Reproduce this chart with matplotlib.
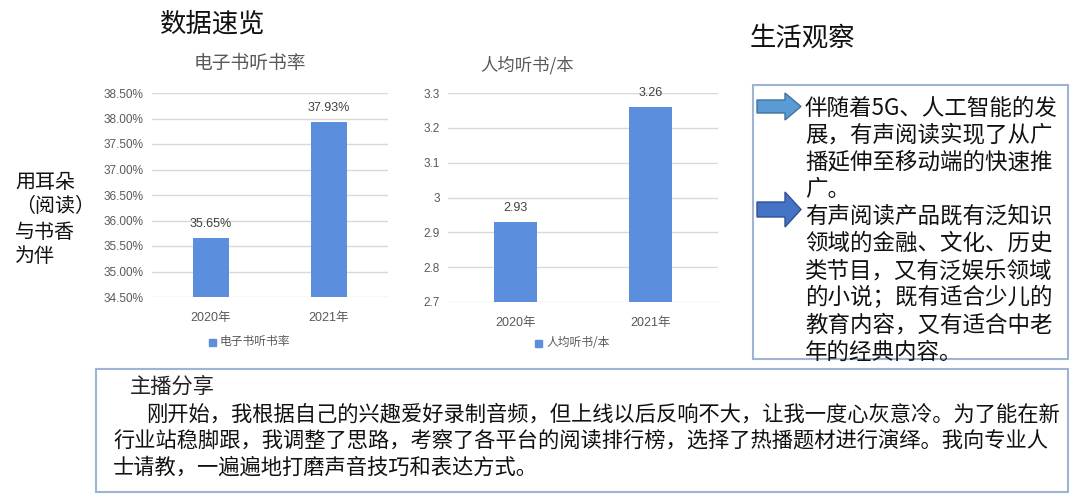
import matplotlib
matplotlib.use("Agg")
import matplotlib.pyplot as plt
from matplotlib.patches import Rectangle, Polygon

plt.rcParams['font.family'] = ['Noto Sans CJK SC', 'DejaVu Sans']
NUM_FONT = ['Liberation Sans', 'Noto Sans CJK SC']

# data
years = ['2020年', '2021年']
listen_rate = [35.65, 37.93]          # 电子书听书率, %
rate_ticks = [34.5, 35.0, 35.5, 36.0, 36.5, 37.0, 37.5, 38.0, 38.5]
books_per_person = [2.93, 3.26]       # 人均听书/本
book_ticks = [2.7, 2.8, 2.9, 3.0, 3.1, 3.2, 3.3]

side_lines = ['用耳朵', '（阅读）', '与书香', '为伴']
obs_lines = ['伴随着5G、人工智能的发', '展，有声阅读实现了从广', '播延伸至移动端的快速推', '广。',
             '有声阅读产品既有泛知识', '领域的金融、文化、历史', '类节目，又有泛娱乐领域',
             '的小说；既有适合少儿的', '教育内容，又有适合中老', '年的经典内容。']
share_lines = ['刚开始，我根据自己的兴趣爱好录制音频，但上线以后反响不大，让我一度心灰意冷。为了能在新',
               '行业站稳脚跟，我调整了思路，考察了各平台的阅读排行榜，选择了热播题材进行演绎。我向专业人',
               '士请教，一遍遍地打磨声音技巧和表达方式。']

W, H = 1080, 499
BAR = '#5B8FDD'
GRAY = '#595959'

fig = plt.figure(figsize=(W / 100, H / 100), dpi=100)

# pixel overlay for boxes, arrows and free text
ov = fig.add_axes([0, 0, 1, 1])
ov.set_xlim(0, W)
ov.set_ylim(H, 0)
ov.axis('off')


def px_axes(x0, y0, x1, y1):
    return fig.add_axes([x0 / W, 1 - y1 / H, (x1 - x0) / W, (y1 - y0) / H])


def bar_chart(ax, vals, ticks, labels, fmt, width):
    ax.bar(range(len(vals)), vals, width=width, color=BAR, zorder=3)
    ax.set_xlim(-0.5, len(vals) - 0.5)
    ax.set_ylim(ticks[0], ticks[-1])
    ax.set_yticks(ticks)
    ax.set_yticklabels([fmt(t) for t in ticks], family=NUM_FONT, fontsize=8.5, color=GRAY)
    ax.set_xticks(range(len(vals)))
    ax.set_xticklabels(years, family=NUM_FONT, fontsize=9, color=GRAY)
    ax.tick_params(length=0, axis='x', pad=11)
    ax.tick_params(length=0, axis='y', pad=6)
    for s in ax.spines.values():
        s.set_visible(False)
    ax.grid(axis='y', color='#D9D9D9', lw=1, zorder=0)
    ax.set_axisbelow(True)
    ax.set_facecolor('none')
    ax.bar_label(ax.containers[0], labels=labels, padding=6, family=NUM_FONT,
                 fontsize=9, color='#404040')


ax1 = px_axes(152, 93, 388, 297)
bar_chart(ax1, listen_rate, rate_ticks, [f'{v:.2f}%' for v in listen_rate],
          lambda t: f'{t:.2f}%', 0.31)
ax2 = px_axes(448, 93, 718, 302)
bar_chart(ax2, books_per_person, book_ticks, [f'{v:.2f}' for v in books_per_person],
          lambda t: f'{t:g}', 0.32)

# chart titles and legends
ov.text(250, 63, '电子书听书率', fontsize=13.5, color=GRAY, ha='center', va='center')
ov.text(527, 65, '人均听书/本', fontsize=12.5, color=GRAY, ha='center', va='center')
for cx, cy, name in [(250, 342, '电子书听书率'), (576, 343, '人均听书/本')]:
    ov.add_patch(Rectangle((cx - 41, cy - 3.5), 7, 7, color=BAR))
    ov.text(cx - 30, cy, name, fontsize=8.5, color=GRAY, ha='left', va='center')

# headings
ov.text(160, 24, '数据速览', fontsize=19, color='#111111', ha='left', va='center')
ov.text(750, 38, '生活观察', fontsize=19, color='#111111', ha='left', va='center')

for i, line in enumerate(side_lines):
    ov.text(15, 182 + i * 25, line, fontsize=14.4, color='#111111', ha='left', va='center',
            weight='medium')

# right box
ov.add_patch(Rectangle((753, 85), 1068 - 753, 359 - 85, fill=False, ec='#9FB3D3', lw=1.5))
for i, line in enumerate(obs_lines):
    ov.text(805, 108 + i * 27.1, line, fontsize=16.2, color='#111111', ha='left', va='center',
            weight='medium')

# arrows
for (ymid, shaft, head, fc, ec) in [(106.5, 6.5, 13.5, '#5B9BD5', '#41719C'),
                                    (209.5, 7.5, 17.5, '#4472C4', '#2F528F')]:
    pts = [(757, ymid - shaft), (785, ymid - shaft), (785, ymid - head), (801, ymid),
           (785, ymid + head), (785, ymid + shaft), (757, ymid + shaft)]
    ov.add_patch(Polygon(pts, closed=True, fc=fc, ec=ec, lw=1))

# bottom box
ov.add_patch(Rectangle((96, 369), 1068 - 96, 492 - 369, fill=False, ec='#9FB3D3', lw=1.5))
ov.text(130, 387, '主播分享', fontsize=15.3, color='#222222', ha='left', va='center')
for i, line in enumerate(share_lines):
    x0 = 146 if i == 0 else 113
    ov.text(x0, 414 + i * 27, line, fontsize=15.3, color='#111111', ha='left', va='center')

fig.savefig('out.png', dpi=100)
